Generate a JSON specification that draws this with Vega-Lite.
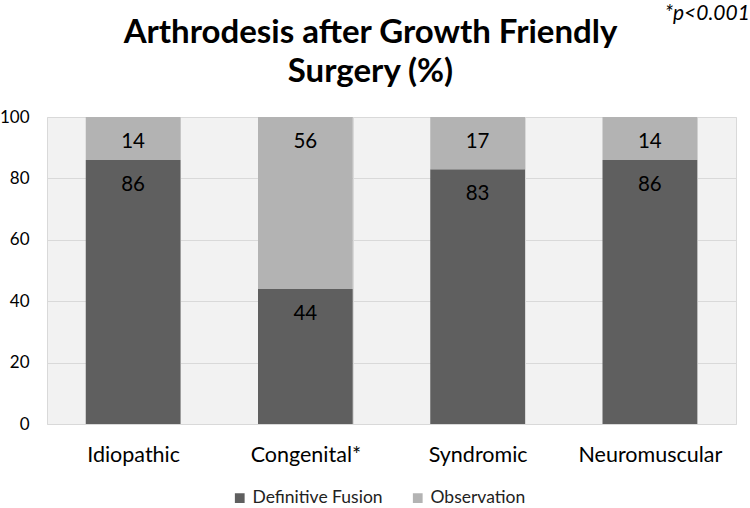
{
  "$schema": "https://vega.github.io/schema/vega-lite/v6.json",
  "width": 689,
  "height": 307,
  "autosize": {"type": "none"},
  "padding": {"left": 47, "top": 117, "right": 14, "bottom": 84},
  "background": "white",
  "title": {
    "text": ["Arthrodesis after Growth Friendly", "Surgery (%)"],
    "font": "Lato",
    "fontSize": 33,
    "fontWeight": "bold",
    "color": "black",
    "anchor": "middle",
    "dx": -21,
    "dy": 110,
    "offset": 24,
    "lineHeight": 39
  },
  "data": {
    "values": [
      {"category": "Idiopathic", "group": "Definitive Fusion", "pct": 86},
      {"category": "Idiopathic", "group": "Observation", "pct": 14},
      {"category": "Congenital*", "group": "Definitive Fusion", "pct": 44},
      {"category": "Congenital*", "group": "Observation", "pct": 56},
      {"category": "Syndromic", "group": "Definitive Fusion", "pct": 83},
      {"category": "Syndromic", "group": "Observation", "pct": 17},
      {"category": "Neuromuscular", "group": "Definitive Fusion", "pct": 86},
      {"category": "Neuromuscular", "group": "Observation", "pct": 14}
    ]
  },
  "layer": [
    {
      "mark": {"type": "bar"},
      "encoding": {
        "x": {
          "field": "category",
          "type": "nominal",
          "sort": ["Idiopathic", "Congenital*", "Syndromic", "Neuromuscular"],
          "scale": {"paddingInner": 0.45, "paddingOuter": 0.225},
          "axis": {
            "title": null,
            "labelAngle": 0,
            "labelFont": "Lato",
            "labelFontSize": 21.5,
            "labelColor": "black",
            "labelPadding": 20,
            "domain": false,
            "ticks": false,
            "grid": true,
            "tickBand": "extent",
            "gridColor": "#d9d9d9",
            "gridWidth": 1
          }
        },
        "y": {
          "field": "pct",
          "type": "quantitative",
          "stack": "zero",
          "scale": {"domain": [0, 100]},
          "axis": {
            "title": null,
            "values": [0, 20, 40, 60, 80, 100],
            "labelFont": "Lato",
            "labelFontSize": 17,
            "labelColor": "black",
            "labelPadding": 18,
            "domain": false,
            "ticks": false,
            "gridColor": "#d9d9d9",
            "gridWidth": 1
          }
        },
        "color": {
          "field": "group",
          "type": "nominal",
          "scale": {"domain": ["Definitive Fusion", "Observation"], "range": ["#5f5f5f", "#b3b3b3"]},
          "legend": {
            "title": null,
            "orient": "none",
            "legendX": 184,
            "legendY": 372,
            "direction": "horizontal",
            "symbolType": "square",
            "symbolSize": 95,
            "symbolStrokeWidth": 0,
            "labelFont": "Lato",
            "labelFontSize": 17.5,
            "labelColor": "#222",
            "labelOffset": 4,
            "columnPadding": 26
          }
        },
        "order": {"field": "group", "sort": "ascending"}
      }
    },
    {
      "mark": {"type": "text", "font": "Lato", "fontSize": 20.5, "color": "black", "baseline": "middle", "dy": 25},
      "encoding": {
        "x": {"field": "category", "type": "nominal", "sort": ["Idiopathic", "Congenital*", "Syndromic", "Neuromuscular"]},
        "y": {"field": "pct", "type": "quantitative", "stack": "zero"},
        "detail": {"field": "group"},
        "order": {"field": "group", "sort": "ascending"},
        "text": {"field": "pct", "type": "quantitative"}
      }
    },
    {
      "data": {"values": [{"note": "*p<0.001"}]},
      "mark": {"type": "text", "font": "Lato", "fontSize": 21, "fontStyle": "italic", "color": "black", "align": "right", "baseline": "middle", "dx": 100, "dy": -103},
      "encoding": {
        "x": {"datum": "Neuromuscular"},
        "y": {"datum": 100},
        "text": {"field": "note"}
      }
    }
  ],
  "config": {
    "view": {"fill": "#f2f2f2", "stroke": "#d9d9d9", "strokeWidth": 1}
  }
}
